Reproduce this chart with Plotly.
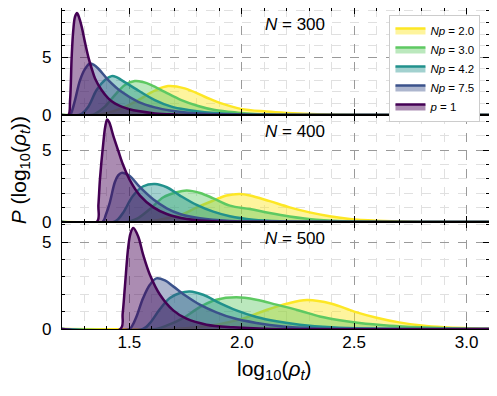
import plotly.graph_objects as go
from plotly.subplots import make_subplots

# series labels and colours (viridis, 5 levels)
labels = ["<i>Np</i> = 2.0", "<i>Np</i> = 3.0", "<i>Np</i> = 4.2", "<i>Np</i> = 7.5", "<i>p</i> = 1"]
colors = ["#fde725", "#5ec962", "#21918c", "#3b528b", "#440154"]
fills = ["rgba(253,231,37,0.45)", "rgba(94,201,98,0.42)", "rgba(33,145,140,0.42)",
         "rgba(59,82,139,0.42)", "rgba(68,1,84,0.45)"]
panel_titles = ["<i>N</i> = 300", "<i>N</i> = 400", "<i>N</i> = 500"]

# ---- N = 300 ----
x300_np20 = [1.20, 1.34, 1.391, 1.465, 1.539, 1.613, 1.672, 1.746, 1.835, 1.909, 1.995, 2.11, 2.20, 2.30, 2.45, 3.10]
y300_np20 = [0, 0, 0.14, 0.57, 1.29, 2.1, 2.5, 2.3, 1.58, 1.0, 0.53, 0.3, 0.18, 0.09, 0.02, 0]
x300_np30 = [1.20, 1.33, 1.347, 1.391, 1.435, 1.480, 1.524, 1.56, 1.598, 1.657, 1.731, 1.806, 1.880, 1.983, 2.057, 2.20, 3.10]
y300_np30 = [0, 0, 0.1, 0.72, 1.72, 2.59, 2.93, 2.85, 2.59, 2.0, 1.29, 0.78, 0.43, 0.2, 0.09, 0.02, 0]
x300_np42 = [1.20, 1.275, 1.288, 1.317, 1.354, 1.391, 1.421, 1.44, 1.465, 1.524, 1.613, 1.687, 1.761, 1.835, 1.983, 2.15, 3.10]
y300_np42 = [0, 0, 0.1, 0.72, 2.16, 3.02, 3.36, 3.3, 3.02, 2.3, 1.29, 0.72, 0.43, 0.23, 0.06, 0.01, 0]
x300_np75 = [1.20, 1.236, 1.243, 1.258, 1.280, 1.302, 1.324, 1.340, 1.361, 1.406, 1.465, 1.539, 1.613, 1.687, 1.761, 1.909, 2.05, 3.10]
y300_np75 = [0, 0, 0.26, 1.29, 3.0, 3.97, 4.45, 4.35, 4.02, 3.02, 2.0, 1.14, 0.66, 0.37, 0.2, 0.06, 0.01, 0]
x300_p1 = [1.20, 1.228, 1.236, 1.243, 1.250, 1.258, 1.267, 1.273, 1.288, 1.302, 1.317, 1.332, 1.347, 1.376, 1.406, 1.435, 1.465, 1.50, 1.539, 1.613, 1.70, 1.80, 3.10]
y300_p1 = [0, 0, 1.3, 5.0, 7.3, 8.5, 8.82, 8.6, 7.6, 6.3, 5.03, 4.02, 3.16, 2.16, 1.44, 1.0, 0.72, 0.5, 0.34, 0.14, 0.05, 0.01, 0]

# ---- N = 400 ----
x400_np20 = [1.20, 1.55, 1.60, 1.651, 1.74, 1.80, 1.873, 1.932, 1.99, 2.036, 2.124, 2.213, 2.302, 2.391, 2.48, 2.599, 2.75, 3.10]
y400_np20 = [0, 0, 0.07, 0.21, 0.56, 1.02, 1.49, 1.84, 1.95, 1.85, 1.45, 1.02, 0.67, 0.4, 0.21, 0.09, 0.02, 0]
x400_np30 = [1.20, 1.49, 1.532, 1.592, 1.651, 1.710, 1.755, 1.814, 1.873, 1.947, 2.036, 2.124, 2.213, 2.332, 2.50, 3.10]
y400_np30 = [0, 0, 0.21, 0.91, 1.72, 2.07, 2.19, 2.02, 1.65, 1.14, 0.9, 0.62, 0.38, 0.15, 0.03, 0]
x400_np42 = [1.20, 1.43, 1.45, 1.473, 1.517, 1.562, 1.614, 1.666, 1.725, 1.799, 1.873, 1.947, 2.051, 2.17, 2.35, 3.10]
y400_np42 = [0, 0, 0.2, 0.67, 1.84, 2.49, 2.65, 2.42, 1.84, 1.19, 0.72, 0.4, 0.16, 0.05, 0.01, 0]
x400_np75 = [1.20, 1.38, 1.395, 1.413, 1.435, 1.45, 1.465, 1.48, 1.503, 1.547, 1.607, 1.666, 1.725, 1.814, 1.947, 2.10, 3.10]
y400_np75 = [0, 0, 0.5, 1.37, 2.77, 3.25, 3.42, 3.38, 3.19, 2.42, 1.56, 0.955, 0.56, 0.26, 0.07, 0.01, 0]
x400_p1 = [1.20, 1.355, 1.362, 1.369, 1.384, 1.392, 1.401, 1.41, 1.428, 1.450, 1.473, 1.503, 1.547, 1.607, 1.666, 1.755, 1.873, 2.0, 3.10]
y400_p1 = [0, 0, 1.2, 3.0, 5.55, 6.6, 7.14, 6.95, 6.02, 4.98, 3.93, 2.88, 1.84, 1.02, 0.56, 0.21, 0.05, 0.01, 0]

# ---- N = 500 ----
x500_np20 = [1.20, 1.70, 1.80, 1.90, 2.00, 2.10, 2.20, 2.29, 2.40, 2.50, 2.60, 2.70, 2.80, 2.90, 3.00, 3.10]
y500_np20 = [0, 0.01, 0.1, 0.28, 0.58, 1.05, 1.45, 1.66, 1.45, 1.0, 0.65, 0.38, 0.2, 0.1, 0.05, 0.02]
x500_np30 = [1.20, 1.62, 1.665, 1.739, 1.813, 1.887, 1.976, 2.065, 2.154, 2.258, 2.347, 2.436, 2.524, 2.658, 2.791, 2.95, 3.10]
y500_np30 = [0, 0, 0.19, 0.63, 1.26, 1.68, 1.82, 1.68, 1.4, 1.05, 0.72, 0.5, 0.34, 0.19, 0.1, 0.03, 0]
x500_np42 = [1.20, 1.56, 1.591, 1.636, 1.680, 1.725, 1.769, 1.828, 1.902, 1.976, 2.065, 2.154, 2.258, 2.40, 2.55, 3.10]
y500_np42 = [0, 0, 0.34, 1.15, 1.78, 2.07, 2.16, 1.97, 1.49, 1.07, 0.69, 0.44, 0.25, 0.1, 0.03, 0]
x500_np75 = [1.20, 1.50, 1.515, 1.532, 1.561, 1.591, 1.620, 1.658, 1.695, 1.754, 1.813, 1.887, 1.961, 2.065, 2.184, 2.32, 2.50, 3.10]
y500_np75 = [0, 0, 0.25, 0.73, 1.78, 2.54, 2.91, 2.79, 2.45, 1.88, 1.4, 0.96, 0.63, 0.35, 0.15, 0.05, 0.01, 0]
x500_p1 = [1.20, 1.46, 1.47, 1.480, 1.495, 1.505, 1.517, 1.539, 1.561, 1.591, 1.636, 1.695, 1.754, 1.843, 1.961, 2.10, 3.10]
y500_p1 = [0, 0, 0.9, 2.45, 4.75, 5.5, 5.80, 5.32, 4.27, 3.12, 1.97, 1.07, 0.59, 0.25, 0.1, 0.02, 0]

panels = [
    [(x300_np20, y300_np20), (x300_np30, y300_np30), (x300_np42, y300_np42), (x300_np75, y300_np75), (x300_p1, y300_p1)],
    [(x400_np20, y400_np20), (x400_np30, y400_np30), (x400_np42, y400_np42), (x400_np75, y400_np75), (x400_p1, y400_p1)],
    [(x500_np20, y500_np20), (x500_np30, y500_np30), (x500_np42, y500_np42), (x500_np75, y500_np75), (x500_p1, y500_p1)],
]
y_tops = [9.25, 7.45, 6.15]

FONT = "Liberation Sans, Arial, sans-serif"

fig = make_subplots(rows=3, cols=1, shared_xaxes=True, vertical_spacing=0)

for r, series in enumerate(panels, start=1):
    for i, (xs, ys) in enumerate(series):
        # filled area + curve in one trace
        fig.add_trace(go.Scatter(x=xs, y=ys, mode="lines", fill="tozeroy", fillcolor=fills[i],
                                 line=dict(color=colors[i], width=2.5, shape="spline", smoothing=1.0),
                                 name=labels[i], showlegend=(r == 1)),
                      row=r, col=1)
    fig.update_yaxes(range=[0, y_tops[r - 1]], row=r, col=1)
    xref = "x" if r == 1 else f"x{r}"
    yref = "y domain" if r == 1 else f"y{r} domain"
    fig.add_annotation(x=2.093, y=0.85, xref=xref, yref=yref, text=panel_titles[r - 1],
                       showarrow=False, xanchor="left", yanchor="middle",
                       font=dict(family=FONT, size=17, color="black"))

fig.update_xaxes(range=[1.2, 3.1], dtick=0.5, tick0=0, tickformat=".1f", ticks="inside", ticklen=6,
                 tickcolor="black", mirror="allticks", showline=True, linecolor="black", linewidth=1.3,
                 showgrid=True, gridcolor="#9a9a9a", griddash="dash", gridwidth=1, zeroline=False,
                 minor=dict(dtick=0.1, tick0=0, ticks="inside", ticklen=3, tickcolor="black",
                            showgrid=True, gridcolor="#e0e0e0", griddash="dash"),
                 tickfont=dict(family=FONT, size=17, color="black"), ticklabelstandoff=-3)
fig.update_yaxes(dtick=5, tick0=0, ticks="inside", ticklen=6, tickcolor="black",
                 mirror="allticks", showline=True, linecolor="black", linewidth=1.3,
                 showgrid=True, gridcolor="#9a9a9a", griddash="dash", gridwidth=1, zeroline=False,
                 minor=dict(dtick=1, tick0=0, ticks="inside", ticklen=3, tickcolor="black",
                            showgrid=True, gridcolor="#e0e0e0", griddash="dash"),
                 tickfont=dict(family=FONT, size=17, color="black"), ticklabelstandoff=6)

fig.add_annotation(x=-0.098, y=0.495, xref="paper", yref="paper", textangle=-90, showarrow=False,
                   xanchor="center", yanchor="middle",
                   text="<i>P</i> (log<sub>10</sub>(<i>ρ<sub>t</sub></i>))",
                   font=dict(family=FONT, size=21, color="black"))
fig.add_annotation(x=0.497, y=-0.128, xref="paper", yref="paper", showarrow=False,
                   xanchor="center", yanchor="middle",
                   text="log<sub>10</sub>(<i>ρ<sub>t</sub></i>)",
                   font=dict(family=FONT, size=21, color="black"))

# page body has an 8px margin, so the figure is shrunk by 8px and margins shifted
fig.update_layout(
    width=489, height=388,
    margin=dict(l=54, r=8, t=0, b=67),
    plot_bgcolor="white", paper_bgcolor="white",
    font=dict(family=FONT, color="black"),
    legend=dict(x=0.98, y=0.978, xanchor="right", yanchor="top",
                bgcolor="white", bordercolor="#cccccc", borderwidth=1,
                font=dict(family=FONT, size=11.5, color="black")),
)

fig.write_html("out.html")
